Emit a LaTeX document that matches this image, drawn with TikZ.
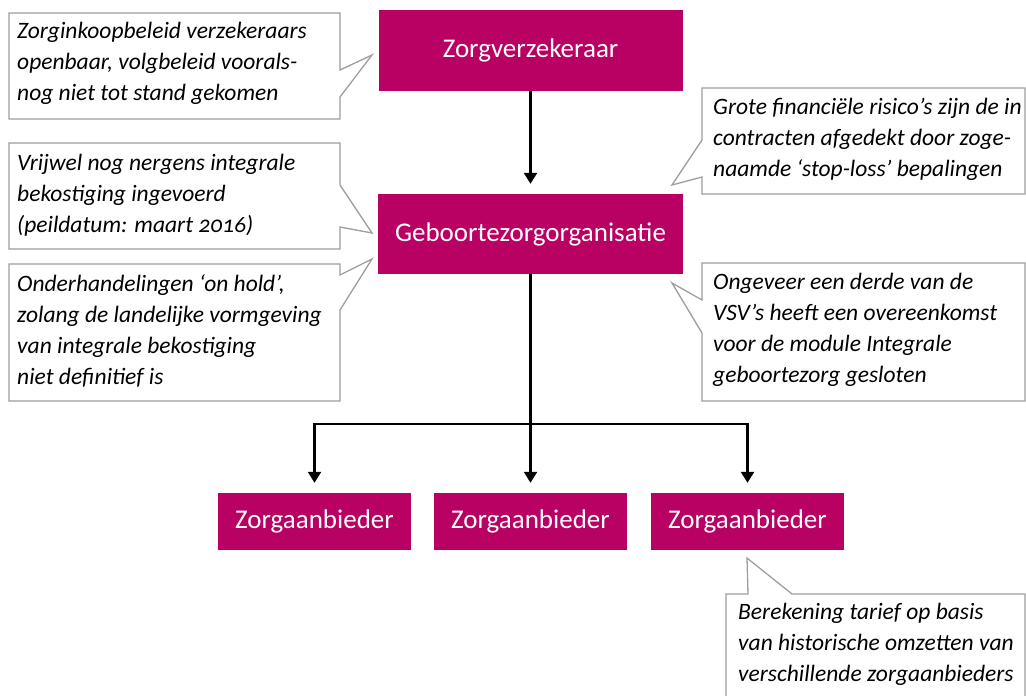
\documentclass[tikz,border=0pt]{standalone}
\usepackage{fontspec}
\setmainfont{Carlito}[Numbers=OldStyle]
\usetikzlibrary{arrows.meta}
\definecolor{rijkmagenta}{RGB}{185,0,99}
\definecolor{calloutgray}{RGB}{158,158,158}
\tikzset{
  orgbox/.style={fill=rijkmagenta, text=white, inner sep=0pt,
    font=\fontsize{27}{30}\selectfont, anchor=center},
  flowarrow/.style={draw=black, line width=2.4pt,
    -{Triangle[width=13pt,length=11pt]}, shorten >=10pt},
  flowline/.style={draw=black, line width=2.4pt},
  calloutframe/.style={draw=calloutgray, line width=1.3pt, line join=miter, fill=white},
  callouttext/.style={anchor=north west, inner sep=0pt, align=left,
    font=\fontsize{23.5}{31}\selectfont\itshape}
}
\begin{document}
\begin{tikzpicture}[x=1pt,y=-1pt]
\useasboundingbox (0,0) rectangle (1026,696);
\fill[white] (0,0) rectangle (1026,696);

% organisation boxes
\node[orgbox, minimum width=304pt, minimum height=81pt] (zv) at (530.5,50.5) {Zorgverzekeraar};
\node[orgbox, minimum width=305pt, minimum height=80pt] (gz) at (530.5,234) {Geboortezorgorganisatie};
\node[orgbox, minimum width=193pt, minimum height=57pt] (za1) at (314.5,521.5) {Zorgaanbieder};
\node[orgbox, minimum width=193pt, minimum height=57pt] (za2) at (530.5,521.5) {Zorgaanbieder};
\node[orgbox, minimum width=193pt, minimum height=57pt] (za3) at (747.5,521.5) {Zorgaanbieder};

% connectors
\coordinate (split) at (530.5,424);
\draw[flowarrow] (zv.south) -- (gz.north);
\draw[flowline] (gz.south) -- (split);
\draw[flowarrow] (split) -| (za1.north);
\draw[flowarrow] (split) -- (za2.north);
\draw[flowarrow] (split) -| (za3.north);

% callout frames
\draw[calloutframe] (9,13) -- (340,13) -- (340,70) -- (372,55) -- (340,97) -- (340,119) -- (9,119) -- cycle;
\draw[calloutframe] (9,143) -- (340,143) -- (340,185) -- (372,233) -- (340,227) -- (340,249) -- (9,249) -- cycle;
\draw[calloutframe] (9,264) -- (340,264) -- (340,275) -- (372,259) -- (340,310) -- (340,401) -- (9,401) -- cycle;
\draw[calloutframe] (702,88) -- (1025,88) -- (1025,194) -- (702,194) -- (702,177) -- (672,185) -- (702,140) -- cycle;
\draw[calloutframe] (702,263) -- (1025,263) -- (1025,401) -- (702,401) -- (702,333) -- (672,283) -- (702,300) -- cycle;
\draw[calloutframe] (726,705) -- (726,594) -- (748,594) -- (747,558) -- (792,594) -- (1025,594) -- (1025,705);

% callout texts
\node[callouttext] (c1) at (17,22) {Zorginkoopbeleid verzekeraars\\openbaar, volgbeleid voorals-\\nog niet tot stand gekomen};
\node[callouttext] (c2) at (17,154) {Vrijwel nog nergens integrale\\bekostiging ingevoerd\\(peildatum: maart 2016)};
\node[callouttext] (c3) at (17,274) {Onderhandelingen ‘on hold’,\\zolang de landelijke vormgeving\\van integrale bekostiging\\niet definitief is};
\node[callouttext] (c4) at (713,98) {Grote financiële risico’s zijn de in\\contracten afgedekt door zoge-\\naamde ‘stop-loss’ bepalingen};
\node[callouttext] (c5) at (713,273) {Ongeveer een derde van de\\VSV’s heeft een overeenkomst\\voor de module Integrale\\geboortezorg gesloten};
\node[callouttext] (c6) at (738,603) {Berekening tarief op basis\\van historische omzetten van\\verschillende zorgaanbieders};
\end{tikzpicture}
\end{document}
